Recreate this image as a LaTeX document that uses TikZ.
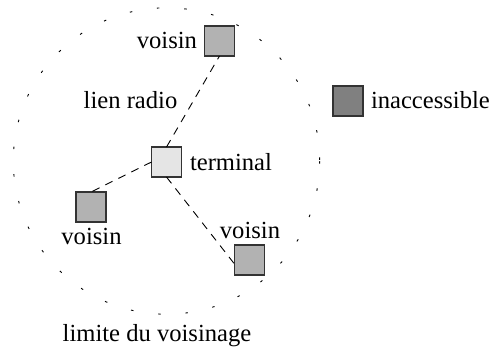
\documentclass[tikz,border=0pt]{standalone}
\usepackage{fontspec}
\setmainfont{Liberation Serif}
\begin{document}
\begin{tikzpicture}[x=1pt,y=-1pt,
  every node/.style={font=\fontsize{24.6}{29}\selectfont},
  box/.style={draw=black!80, line width=1.1pt, minimum size=30pt, inner sep=0pt, outer sep=0pt},
  nbr/.style={box, fill=black!30},
  term/.style={box, fill=black!10},
  far/.style={box, fill=black!50},
  lbl/.style={inner sep=0pt, outer sep=0pt},
  radiolink/.style={line width=0.9pt, dash pattern=on 8pt off 6.5pt},
  rangeline/.style={line width=0.9pt, dash pattern=on 2.5pt off 24.9pt}]
\useasboundingbox (0,0) rectangle (494,349);
\draw[rangeline] (166.5,161) circle (153.2);
\node[term] (t) at (166.5,162) {};
\node[nbr] (v1) at (219.5,41) {};
\node[nbr] (v2) at (91,207) {};
\node[nbr] (v3) at (249.5,260) {};
\node[far] (x) at (348,101) {};
\draw[radiolink] (t.north) -- (v1.south);
\draw[radiolink] (t.west) -- (v2.north);
\draw[radiolink] (t.south) -- (v3.195);
\node[lbl, anchor=base east] (lv1) at (197,48) {voisin};
\node[lbl, anchor=base] (lr) at (130.5,108) {lien radio};
\node[lbl, anchor=base west] (lt) at (190,170) {terminal};
\node[lbl, anchor=base] (lv2) at (91.5,244) {voisin};
\node[lbl, anchor=base] (lv3) at (250,238) {voisin};
\node[lbl, anchor=base west] (lx) at (371,108) {inaccessible};
\node[lbl, anchor=base] (ll) at (157,341) {limite du voisinage};
\end{tikzpicture}
\end{document}
